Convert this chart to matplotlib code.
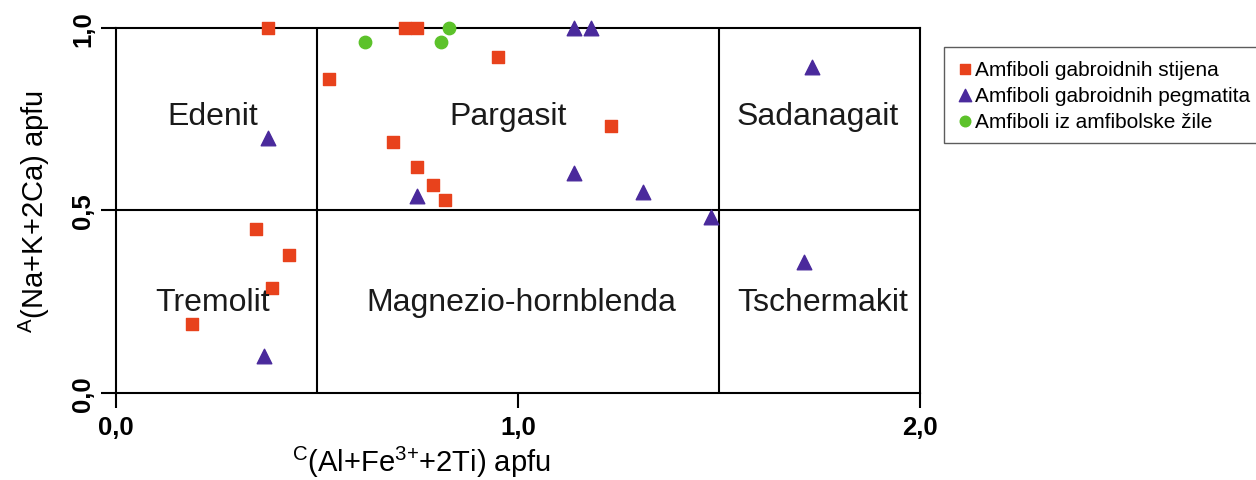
import matplotlib.pyplot as plt

plt.rcParams['font.family'] = ['Liberation Sans', 'DejaVu Sans']
plt.rcParams['mathtext.fontset'] = 'custom'
plt.rcParams['mathtext.rm'] = 'Liberation Sans'
plt.rcParams['mathtext.it'] = 'Liberation Sans'

# Amfiboli gabroidnih stijena
stijena_x = [0.378, 0.719, 0.749, 0.530, 0.950, 0.689, 0.749, 0.789, 0.818, 1.231, 0.348, 0.430, 0.388, 0.189]
stijena_y = [1.000, 1.000, 1.000, 0.860, 0.921, 0.688, 0.619, 0.570, 0.529, 0.732, 0.449, 0.378, 0.288, 0.189]

# Amfiboli gabroidnih pegmatita
pegmatit_x = [0.378, 0.368, 0.749, 1.139, 1.182, 1.139, 1.311, 1.480, 1.711, 1.731]
pegmatit_y = [0.699, 0.101, 0.540, 1.000, 1.000, 0.603, 0.551, 0.482, 0.359, 0.893]

# Amfiboli iz amfibolske zile
zila_x = [0.619, 0.808, 0.828]
zila_y = [0.962, 0.962, 1.000]

regions = ["Edenit", "Pargasit", "Sadanagait", "Tremolit", "Magnezio-hornblenda", "Tschermakit"]
region_x = [0.24, 0.975, 1.745, 0.24, 1.007, 1.759]
region_y = [0.76, 0.76, 0.76, 0.25, 0.25, 0.25]

red = '#e8421c'
purple = '#4a2a9c'
green = '#5cc22a'

fig = plt.figure(figsize=(12.56, 4.81), dpi=100)
ax = fig.add_axes([0.0924, 0.1809, 0.6401, 0.7588])

ax.set_xlim(0, 2)
ax.set_ylim(0, 1)

# field boundaries
ax.axvline(0.5, color='k', lw=1.5)
ax.axvline(1.5, color='k', lw=1.5)
ax.axhline(0.5, color='k', lw=1.5)

ax.scatter(stijena_x, stijena_y, marker='s', s=85, color=red, clip_on=False, zorder=3,
           label='Amfiboli gabroidnih stijena')
ax.scatter(pegmatit_x, pegmatit_y, marker='^', s=110, color=purple, clip_on=False, zorder=3,
           label='Amfiboli gabroidnih pegmatita')
ax.scatter(zila_x, zila_y, marker='o', s=80, color=green, clip_on=False, zorder=4,
           label='Amfiboli iz amfibolske žile')

for name, x, y in zip(regions, region_x, region_y):
    ax.text(x, y, name, fontsize=23, ha='center', va='center', color='#1a1a1a')

for sp in ax.spines.values():
    sp.set_linewidth(1.5)

ax.set_xticks([0, 1, 2])
ax.set_xticklabels(['0,0', '1,0', '2,0'], fontweight='bold', fontsize=18.5)
ax.set_yticks([0, 0.5, 1])
ax.set_yticklabels(['0,0', '0,5', '1,0'], fontweight='bold', fontsize=18.5, rotation=90, va='center')
ax.tick_params(axis='both', direction='out', length=11, width=1.5, color='k')
ax.tick_params(axis='y', pad=4)
ax.tick_params(axis='x', pad=5)

ax.set_xlabel(r'$^{\mathrm{C}}$(Al+Fe$^{\mathrm{3{+}}}$+2Ti) apfu', fontsize=21)
ax.xaxis.set_label_coords(0.38, -0.14)
ax.set_ylabel(r'$^{\mathrm{A}}$(Na+K+2Ca) apfu', fontsize=21)
ax.yaxis.set_label_coords(-0.08, 0.5)

leg = fig.legend(loc='upper left', bbox_to_anchor=(944 / 1256, 1 - 48 / 481), fontsize=15,
                 frameon=True, fancybox=False, edgecolor='#333333', handletextpad=0.1,
                 handlelength=0.8, borderpad=0.6, labelspacing=0.34, markerscale=0.85,
                 borderaxespad=0)
leg.get_frame().set_linewidth(1.0)

fig.savefig('out.png', dpi=100)
